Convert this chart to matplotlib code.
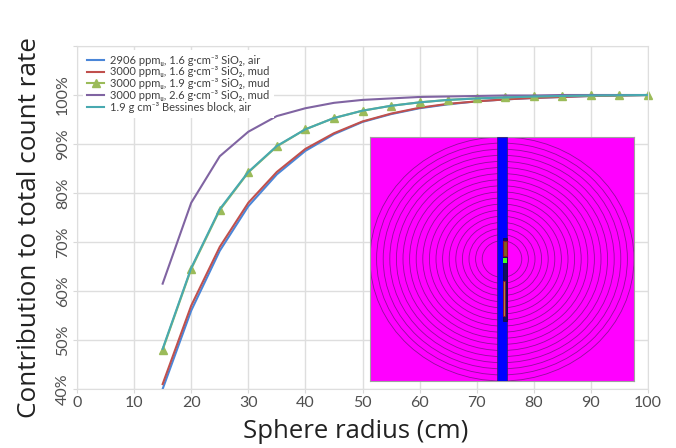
import numpy as np
import matplotlib
matplotlib.use('Agg')
import matplotlib.pyplot as plt
from matplotlib.patches import Ellipse, Rectangle

plt.rcParams['font.family'] = ['Lato', 'DejaVu Sans']

# data to plot
radius = [15, 20, 25, 30, 35, 40, 45, 50, 55, 60, 65, 70, 75, 80, 85, 90, 95, 100]
air_16 = [40, 56, 68.2, 77.3, 83.8, 88.6, 92, 94.5, 96.1, 97.3, 98.1, 98.7, 99.1, 99.4, 99.6, 99.8, 99.9, 100]
mud_16 = [41, 57, 69, 78, 84.3, 89, 92.2, 94.6, 96.2, 97.4, 98.2, 98.7, 99.1, 99.4, 99.6, 99.8, 99.9, 100]
mud_19 = [48, 64.5, 76.5, 84.2, 89.5, 93, 95.3, 96.8, 97.8, 98.5, 99, 99.3, 99.5, 99.7, 99.8, 99.9, 99.95, 100]
mud_26 = [61.5, 78, 87.5, 92.5, 95.7, 97.3, 98.4, 99, 99.3, 99.6, 99.7, 99.8, 99.9, 99.9, 100, 100, 100, 100]
block_19 = [48.2, 64.7, 76.7, 84.3, 89.6, 93, 95.3, 96.8, 97.8, 98.5, 99, 99.3, 99.5, 99.7, 99.8, 99.9, 99.95, 100]

labels = ['2906 ppm\u1d64, 1.6 g\u00b7cm\u207b\u00b3 SiO\u2082, air',
          '3000 ppm\u1d64, 1.6 g\u00b7cm\u207b\u00b3 SiO\u2082, mud',
          '3000 ppm\u1d64, 1.9 g\u00b7cm\u207b\u00b3 SiO\u2082, mud',
          '3000 ppm\u1d64, 2.6 g\u00b7cm\u207b\u00b3 SiO\u2082, mud',
          '1.9 g cm\u207b\u00b3 Bessines block, air']

W, H = 676, 448
fig = plt.figure(figsize=(W / 100, H / 100), dpi=100)
ax = fig.add_axes([77 / W, 1 - 389 / H, 571 / W, 343 / H])

ax.plot(radius, air_16, color='#4a86d8', lw=1.5, label=labels[0])
ax.plot(radius, mud_16, color='#c0504d', lw=1.5, label=labels[1])
ax.plot(radius, mud_19, color='#9bbb59', lw=1.5, marker='^', ms=5.5, clip_on=False, label=labels[2])
ax.plot(radius, mud_26, color='#8064a2', lw=1.5, label=labels[3])
ax.plot(radius, block_19, color='#48a9b0', lw=1.5, label=labels[4])

ax.set_xlim(0, 100)
ax.set_ylim(40, 110)
ax.set_xticks(range(0, 101, 10))
ax.set_yticks(range(40, 111, 10))
ax.set_yticklabels([f'{v}%' for v in range(40, 101, 10)] + [''], rotation=90, va='center')
ax.tick_params(axis='both', color='#d9d9d9', length=3, labelsize=11.5, labelcolor='#505050', pad=2)
ax.grid(color='#dedede', lw=1)
ax.set_axisbelow(True)
for s in ax.spines.values():
    s.set_color('#dedede')

leg = ax.legend(loc='upper left', bbox_to_anchor=(0.01, 0.988), fontsize=8, frameon=True,
                framealpha=1, edgecolor='none', fancybox=False, borderpad=0.4, labelspacing=0.08,
                handlelength=1.55, handletextpad=0.55, borderaxespad=0)
for t in leg.get_texts():
    t.set_color('#404040')

fig.text(356 / W, 1 - 431 / H, 'Sphere radius (cm)', fontsize=18.5, color='#222222',
         family=['Open Sans', 'DejaVu Sans'], ha='center', va='center')
fig.text(30 / W, 1 - 228 / H, 'Contribution to total count rate', fontsize=18.8, color='#222222',
         family=['Open Sans', 'DejaVu Sans'], rotation=90, ha='center', va='center')

# inset geometry picture
rings = radius
inset = fig.add_axes([370 / W, 1 - 381 / H, 264 / W, 244 / H])
inset.set_xlim(-100, 100)
inset.set_ylim(-100, 100)
inset.set_facecolor('#ff00ff')
inset.set_xticks([])
inset.set_yticks([])
for s in inset.spines.values():
    s.set_color('#a0a0a0')
    s.set_linewidth(0.8)
for r in rings:
    inset.add_patch(Ellipse((0, 0), 2 * r, 2 * r, fill=False, ec='#90109a', lw=0.6))
inset.add_patch(Rectangle((-4, -100), 8, 200, fc='#0000ff', ec='#30206a', lw=0.5, zorder=3))
inset.add_patch(Rectangle((0.7, -51), 3.1, 68, fc='#101060', ec='#101040', lw=0.6, zorder=4))
inset.add_patch(Rectangle((0.9, 2.5), 2.6, 12.5, fc='#806020', ec='#8a1030', lw=0.8, zorder=5))
inset.add_patch(Rectangle((0.9, -3), 2.8, 4, fc='#40ff20', ec='none', zorder=5))
inset.add_patch(Rectangle((0.9, -47), 1.2, 29, fc='#b08040', ec='#8a1030', lw=0.6, zorder=5))

fig.savefig('out.png', dpi=100)
